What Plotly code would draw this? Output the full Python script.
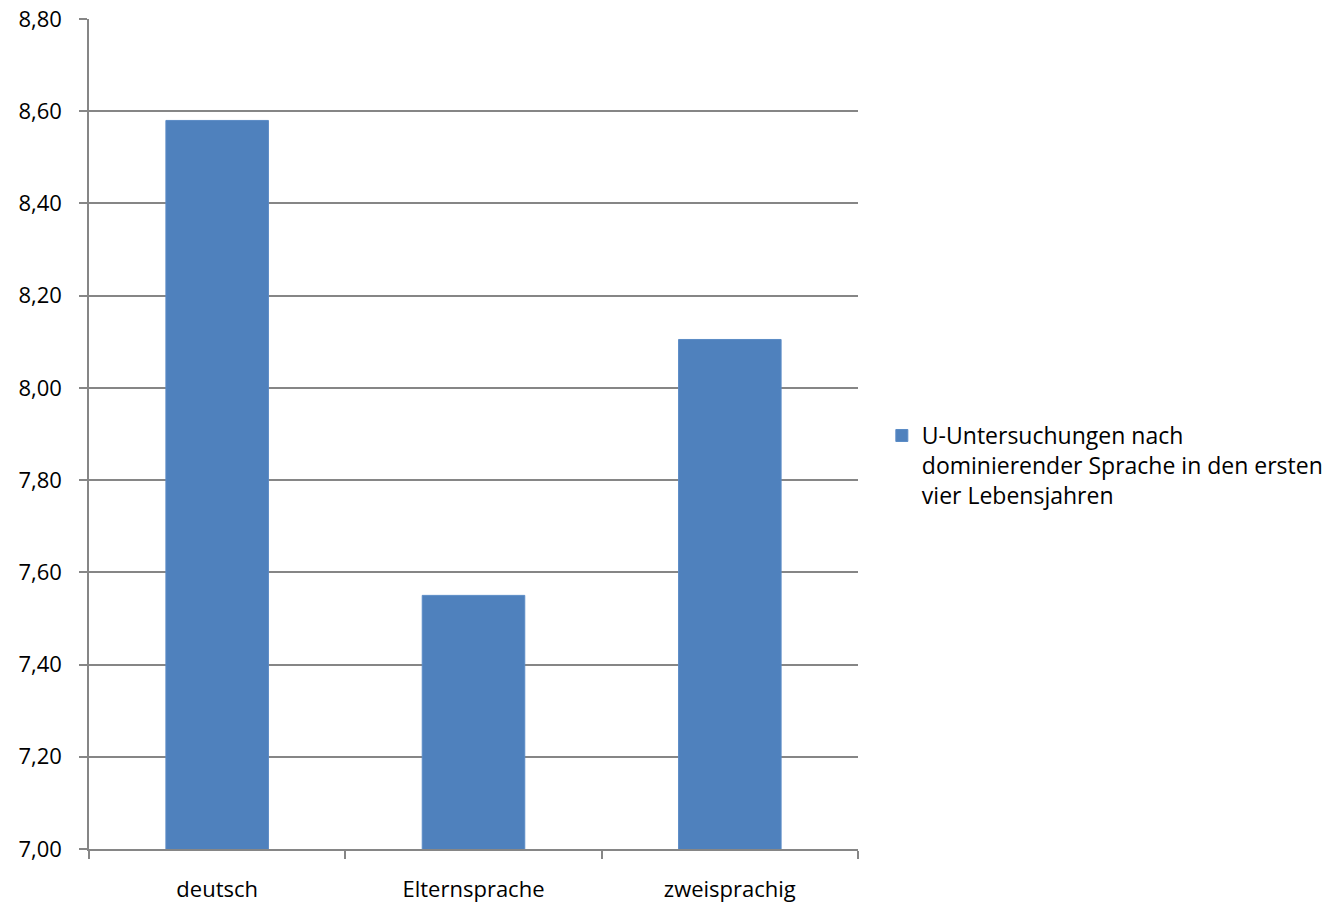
import plotly.graph_objects as go

categories = ["deutsch", "Elternsprache", "zweisprachig"]
values = [8.58, 7.55, 8.105]
series_name = "U-Untersuchungen nach<br>dominierender Sprache in den ersten<br>vier Lebensjahren"
y_ticks = [7.0, 7.2, 7.4, 7.6, 7.8, 8.0, 8.2, 8.4, 8.6, 8.8]

font_family = "Open Sans, Noto Sans, sans-serif"
grid_color = "#868686"

x_pos = list(range(len(categories)))

fig = go.Figure()
fig.add_trace(go.Bar(
    x=x_pos,
    y=values,
    base=0,
    width=0.4,
    name=series_name,
    marker=dict(color="#4F81BD", line=dict(color="#5B8BC6", width=1)),
    showlegend=True,
))

fig.update_layout(
    width=1332,
    height=906,
    margin=dict(l=89, r=474, t=19, b=57, autoexpand=False),
    paper_bgcolor="white",
    plot_bgcolor="white",
    separators=",.",
    font=dict(family=font_family, size=22, color="#000000"),
    showlegend=True,
    legend=dict(
        x=1.031,
        y=0.462,
        xanchor="left",
        yanchor="middle",
        valign="top",
        font=dict(size=23, family=font_family),
        itemwidth=30,
        bgcolor="rgba(0,0,0,0)",
    ),
    xaxis=dict(
        range=[-0.5, 2.5],
        tickvals=x_pos,
        ticktext=categories,
        ticks="",
        ticklabelstandoff=20,
        automargin=False,
        showgrid=False,
        showline=True,
        linecolor=grid_color,
        linewidth=1.5,
        zeroline=False,
        minor=dict(
            tickvals=[-0.5, 0.5, 1.5, 2.5],
            ticks="outside",
            ticklen=8,
            tickcolor=grid_color,
            tickwidth=1.5,
            showgrid=False,
        ),
        tickfont=dict(size=22),
    ),
    yaxis=dict(
        range=[7.0, 8.8],
        tickvals=y_ticks,
        tickformat=".2f",
        ticks="outside",
        ticklen=8,
        tickcolor=grid_color,
        tickwidth=1.5,
        showgrid=True,
        gridcolor=grid_color,
        gridwidth=1.5,
        showline=True,
        linecolor=grid_color,
        linewidth=1.5,
        zeroline=False,
        automargin=False,
        ticklabelstandoff=13,
        tickfont=dict(size=22),
    ),
)

fig.write_html("out.html")
